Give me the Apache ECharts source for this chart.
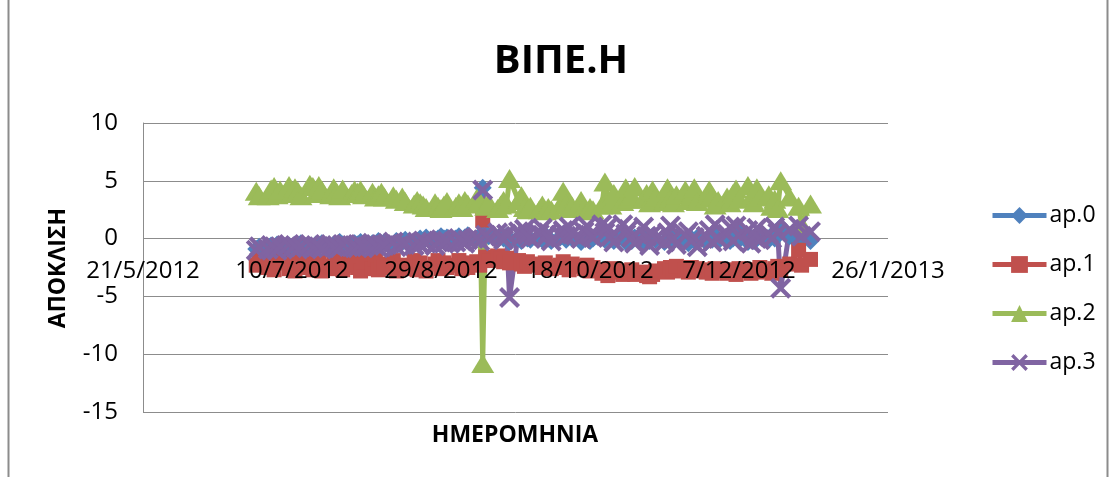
<!DOCTYPE html>
<html>
<head>
<meta charset="utf-8">
<title>ΒΙΠΕ.Η</title>
<script src="https://cdn.jsdelivr.net/npm/echarts@6/dist/echarts.min.js"></script>
<style>
  html, body { margin: 0; padding: 0; background: #fff; }
  #chart { width: 1115px; height: 477px; }
</style>
</head>
<body>
<div id="chart"></div>
<script>
// Trading days, one entry per session
const dates = [
  '2012-06-28','2012-06-29',
  '2012-07-02','2012-07-03','2012-07-04','2012-07-05','2012-07-06',
  '2012-07-09','2012-07-10','2012-07-11','2012-07-12','2012-07-13',
  '2012-07-16','2012-07-17','2012-07-18','2012-07-19','2012-07-20',
  '2012-07-23','2012-07-24','2012-07-25','2012-07-26','2012-07-27',
  '2012-07-30','2012-07-31',
  '2012-08-01','2012-08-02','2012-08-03',
  '2012-08-06','2012-08-07','2012-08-08','2012-08-09','2012-08-10',
  '2012-08-13','2012-08-14','2012-08-16','2012-08-17',
  '2012-08-20','2012-08-21','2012-08-22','2012-08-23','2012-08-24',
  '2012-08-27','2012-08-28','2012-08-29','2012-08-30','2012-08-31',
  '2012-09-03','2012-09-04','2012-09-05','2012-09-06','2012-09-07',
  '2012-09-10','2012-09-11','2012-09-12','2012-09-13','2012-09-14',
  '2012-09-17','2012-09-18','2012-09-19','2012-09-20','2012-09-21',
  '2012-09-24','2012-09-25','2012-09-26','2012-09-27','2012-09-28',
  '2012-10-01','2012-10-02','2012-10-03','2012-10-04','2012-10-05',
  '2012-10-08','2012-10-09','2012-10-10','2012-10-11','2012-10-12',
  '2012-10-15','2012-10-16','2012-10-17','2012-10-18','2012-10-19',
  '2012-10-22','2012-10-23','2012-10-24','2012-10-25','2012-10-26',
  '2012-10-29','2012-10-30','2012-10-31',
  '2012-11-01','2012-11-02',
  '2012-11-05','2012-11-06','2012-11-07','2012-11-08','2012-11-09',
  '2012-11-12','2012-11-13','2012-11-14','2012-11-15','2012-11-16',
  '2012-11-19','2012-11-20','2012-11-21','2012-11-22','2012-11-23',
  '2012-11-26','2012-11-27','2012-11-28','2012-11-29','2012-11-30',
  '2012-12-03','2012-12-04','2012-12-05','2012-12-06','2012-12-07',
  '2012-12-10','2012-12-11','2012-12-12','2012-12-13','2012-12-14',
  '2012-12-17','2012-12-18','2012-12-19','2012-12-20','2012-12-21',
  '2012-12-24','2012-12-27','2012-12-28','2012-12-31'
];

const ap0 = [
  -0.9, -0.7,
  -0.8, -0.6, -0.9, -0.5, -0.7, -0.6, -0.8, -0.5, -0.7, -0.4, -0.6, -0.8, -0.5, -0.6, -0.4, -0.7, -0.5, -0.6, -0.3, -0.5, -0.6, -0.4,
  -0.5, -0.3, -0.6, -0.4, -0.5, -0.2, -0.4, -0.3, -0.5, -0.2, -0.3, -0.1, -0.3, -0.2, 0.0, -0.2, 0.1, -0.1, 0.0, 0.2, 0.0, 0.1,
  0.0, 0.2, -0.1, 0.1, 0.3, 0.0, 0.2, 4.4, 0.5, 0.2, -0.1, 0.3, 0.0, 0.2, -0.3, 0.1, -0.2, 0.3, 0.0, -0.1,
  0.2, -0.1, 0.3, 0.0, -0.2, 0.1, 0.4, -0.1, 0.2, 0.0, -0.3, 0.1, 0.3, -0.2, 0.0, 0.2, -0.1, 0.3, 0.0, -0.2, 0.1, -0.3, 0.0,
  -0.2, 0.1, -0.4, 0.0, -0.2, 0.2, -0.1, -0.3, 0.0, 0.2, -0.2, 0.1, -0.1, -0.4, 0.0, -0.2, 0.1, -0.3, 0.0, -0.1, 0.2, -0.2,
  0.1, -0.2, 0.0, 0.9, -0.1, -0.3, 0.1, -0.2, 0.0, 0.2, -0.1, 0.3, 0.0, 0.6, 1.0, 0.2, -0.3, 0.4, -0.2
];

const ap1 = [
  -2.3, -1.9,
  -2.5, -1.8, -2.7, -2.1, -1.7, -2.6, -2.2, -2.8, -1.9, -2.5, -1.8, -2.7, -2.2, -2.0, -2.8, -2.4, -1.8, -2.6, -2.1, -2.7, -2.3, -1.9,
  -2.5, -2.8, -2.0, -2.6, -1.8, -2.7, -2.2, -2.5, -1.9, -2.8, -2.3, -2.6, -1.9, -2.7, -2.1, -2.5, -2.8, -2.2, -1.9, -2.6, -2.1, -2.5,
  -2.3, -1.9, -2.6, -2.1, -2.5, -2.0, -2.3, 1.6, -1.6, -1.9, -1.5, -1.8, -2.0, -1.7, -2.1, -1.9, -2.2, -2.4, -2.0, -2.3,
  -2.2, -2.5, -2.1, -2.4, -2.6, -2.3, -2.0, -2.5, -2.7, -2.2, -2.4, -2.6, -2.3, -2.8, -2.5, -3.0, -2.7, -3.2, -2.9, -2.6, -3.1, -2.8, -3.0,
  -2.7, -3.1, -2.9, -3.2, -3.3, -3.1, -2.8, -2.6, -2.9, -2.5, -2.8, -2.4, -2.7, -2.9, -2.5, -2.8, -2.6, -2.9, -2.7, -3.0, -2.6, -2.8,
  -3.0, -2.7, -2.9, -3.1, -2.6, -2.8, -3.0, -2.7, -2.9, -2.5, -2.8, -3.0, -2.6, -2.4, -2.7, -2.2, -1.0, -2.3, -1.8
];

const ap2 = [
  4.1, 3.7,
  3.7, 4.3, 4.5, 3.8, 4.2, 4.6, 3.9, 4.4, 4.1, 3.7, 4.7, 4.5, 3.9, 4.6, 4.2, 3.8, 4.4, 4.0, 3.7, 4.3, 3.9, 4.2,
  4.0, 4.2, 3.8, 4.0, 3.6, 3.8, 4.0, 3.6, 3.7, 3.4, 3.6, 3.2, 3.0, 3.3, 3.1, 2.9, 2.7, 3.1, 2.8, 2.6, 2.9, 3.2,
  2.8, 3.1, 2.7, 3.3, 3.0, 3.5, 3.2, -10.8, 2.8, 3.1, 2.6, 2.9, 3.3, 3.0, 5.2, 3.3, 3.7, 2.7, 2.5, 2.8,
  2.5, 2.9, 2.4, 2.7, 2.5, 2.9, 4.1, 3.0, 2.6, 2.8, 3.3, 2.7, 2.4, 2.7, 2.5, 2.9, 4.9, 3.4, 2.9, 3.9, 3.2, 4.4, 3.4,
  3.7, 4.5, 3.4, 3.9, 3.1, 4.2, 3.6, 3.2, 4.4, 3.5, 3.1, 3.8, 4.2, 3.3, 3.7, 4.4, 3.2, 3.5, 4.2, 3.7, 2.9, 3.3,
  3.6, 3.1, 3.9, 4.3, 3.4, 4.6, 3.5, 3.1, 4.4, 3.6, 3.8, 2.8, 3.4, 2.6, 5.0, 3.6, 2.8, 1.2, 3.0
];

const ap3 = [
  -1.0, -0.7,
  -0.9, -0.6, -0.8, -1.0, -0.7, -0.5, -0.8, -0.6, -0.9, -0.7, -0.5, -0.8, -0.6, -0.7, -0.9, -0.5, -0.7, -0.6, -0.8, -0.5, -0.7, -0.6,
  -0.8, -0.5, -0.7, -0.4, -0.6, -0.8, -0.5, -0.6, -0.3, -0.7, -0.5, -0.4, -0.6, -0.3, -0.5, -0.2, -0.4, -0.6, -0.3, -0.1, -0.4, -0.2,
  -0.3, 0.0, -0.2, -0.4, -0.1, 0.1, -0.2, 4.2, 0.3, 0.0, 0.5, 0.2, -0.1, 0.4, -5.1, 0.6, 0.2, 0.8, 0.3, 0.0,
  0.4, 0.9, 0.1, 0.5, -0.2, 0.3, 0.7, 0.2, 1.0, 0.4, 0.0, 0.6, 1.1, 0.3, 0.1, 1.2, 0.5, 1.0, 0.2, -0.3, 1.2, 0.4, 0.8,
  0.1, -0.4, 1.0, 0.2, -0.6, 0.4, 0.0, -0.3, 0.5, 1.1, 0.0, -0.5, 0.3, 0.6, -0.2, 0.1, -0.7, 0.2, 0.7, -0.3, 1.2, 0.0,
  0.4, 1.0, -0.2, 1.1, 0.3, 0.7, -0.4, 0.2, 0.9, -0.1, 0.4, 0.0, 1.0, 0.5, -4.3, 0.8, 1.1, 0.2, 0.6
];

const seriesNames = ['ap.0', 'ap.1', 'ap.2', 'ap.3'];

// Horizontal axis: days counted from 21/5/2012, a tick every 50 days
const AXIS_ORIGIN = '2012-05-21';
const AXIS_SPAN_DAYS = 250;
const AXIS_STEP_DAYS = 50;

// Vertical axis
const Y_MIN = -15, Y_MAX = 10, Y_STEP = 5;

const DAY_MS = 86400000;
const originMs = Date.parse(AXIS_ORIGIN + 'T00:00:00Z');
const dayOffset = d => Math.round((Date.parse(d + 'T00:00:00Z') - originMs) / DAY_MS);
const fmtDay = v => {
  const d = new Date(originMs + v * DAY_MS);
  return d.getUTCDate() + '/' + (d.getUTCMonth() + 1) + '/' + d.getUTCFullYear();
};
const pairs = vals => dates.map((d, i) => [dayOffset(d), vals[i]]);

const FONT = '"Open Sans", "Noto Sans", sans-serif';
const GRID = '#8c8c8c';

// Plot box
const GRID_TOP = 123, GRID_BOTTOM = 65, CHART_H = 477;
const plotH = CHART_H - GRID_TOP - GRID_BOTTOM;
// The date axis crosses the value axis at 0: lift it from the bottom edge
const zeroLift = plotH * (0 - Y_MIN) / (Y_MAX - Y_MIN);

// X-shaped marker (filled outline of a cross)
const CROSS = 'path://M0,2.8 L2.8,0 L10,7.2 L17.2,0 L20,2.8 L12.8,10 L20,17.2 L17.2,20 L10,12.8 L2.8,20 L0,17.2 L7.2,10 Z';

const styles = [
  { color: '#4F81BD', symbol: 'diamond', size: 18 },
  { color: '#C0504D', symbol: 'rect', size: 15 },
  { color: '#9BBB59', symbol: 'triangle', size: [23, 19] },
  { color: '#8064A2', symbol: CROSS, size: 21 }
];
const values = [ap0, ap1, ap2, ap3];

const chart = echarts.init(document.getElementById('chart'), null, { renderer: 'canvas' });

chart.setOption({
  animation: false,
  backgroundColor: '#ffffff',
  textStyle: { fontFamily: FONT },
  grid: { left: 143, right: 227, top: GRID_TOP, bottom: GRID_BOTTOM, containLabel: false },
  legend: {
    orient: 'vertical',
    left: 985,
    top: 199,
    itemWidth: 54,
    itemHeight: 21,
    itemGap: 26,
    data: seriesNames,
    lineStyle: { width: 5 },
    textStyle: { fontFamily: FONT, fontSize: 23, color: '#000', lineHeight: 21, padding: [0, 0, 0, -2] }
  },
  xAxis: {
    type: 'value',
    min: 0,
    max: AXIS_SPAN_DAYS,
    interval: AXIS_STEP_DAYS,
    z: 5,
    position: 'bottom',
    offset: -zeroLift,
    axisLine: { show: false, onZero: false },
    axisTick: { show: false },
    splitLine: { show: false },
    axisLabel: {
      formatter: fmtDay,
      margin: 21,
      fontFamily: FONT,
      fontSize: 24,
      color: '#000',
      showMinLabel: true,
      showMaxLabel: true
    }
  },
  yAxis: {
    type: 'value',
    min: Y_MIN,
    max: Y_MAX,
    interval: Y_STEP,
    axisLine: { show: true, onZero: false, lineStyle: { color: GRID, width: 1 } },
    axisTick: { show: false },
    splitLine: { show: true, lineStyle: { color: GRID, width: 1 } },
    axisLabel: { margin: 25, fontFamily: FONT, fontSize: 24, color: '#000' }
  },
  graphic: [
    {
      type: 'text', x: 561, y: 62,
      style: { text: 'ΒΙΠΕ.Η', font: 'bold 40px ' + FONT, fill: '#000', align: 'center', verticalAlign: 'middle' }
    },
    {
      type: 'text', x: 58, y: 268, rotation: Math.PI / 2,
      style: { text: 'ΑΠΟΚΛΙΣΗ', font: 'bold 23px ' + FONT, fill: '#000', align: 'center', verticalAlign: 'middle' }
    },
    {
      type: 'text', x: 515, y: 435,
      style: { text: 'ΗΜΕΡΟΜΗΝΙΑ', font: 'bold 23px ' + FONT, fill: '#000', align: 'center', verticalAlign: 'middle' }
    },
    { type: 'line', shape: { x1: 8.5, y1: 0, x2: 8.5, y2: 477 }, style: { stroke: GRID, lineWidth: 2 } },
    { type: 'line', shape: { x1: 1107.5, y1: 0, x2: 1107.5, y2: 477 }, style: { stroke: GRID, lineWidth: 2 } }
  ],
  series: seriesNames.map((name, k) => ({
    name,
    type: 'line',
    data: pairs(values[k]),
    symbol: styles[k].symbol,
    symbolSize: styles[k].size,
    showSymbol: true,
    showAllSymbol: true,
    clip: false,
    lineStyle: { color: styles[k].color, width: 5 },
    itemStyle: { color: styles[k].color, borderWidth: 0 },
    emphasis: { disabled: true }
  }))
});
</script>
</body>
</html>
